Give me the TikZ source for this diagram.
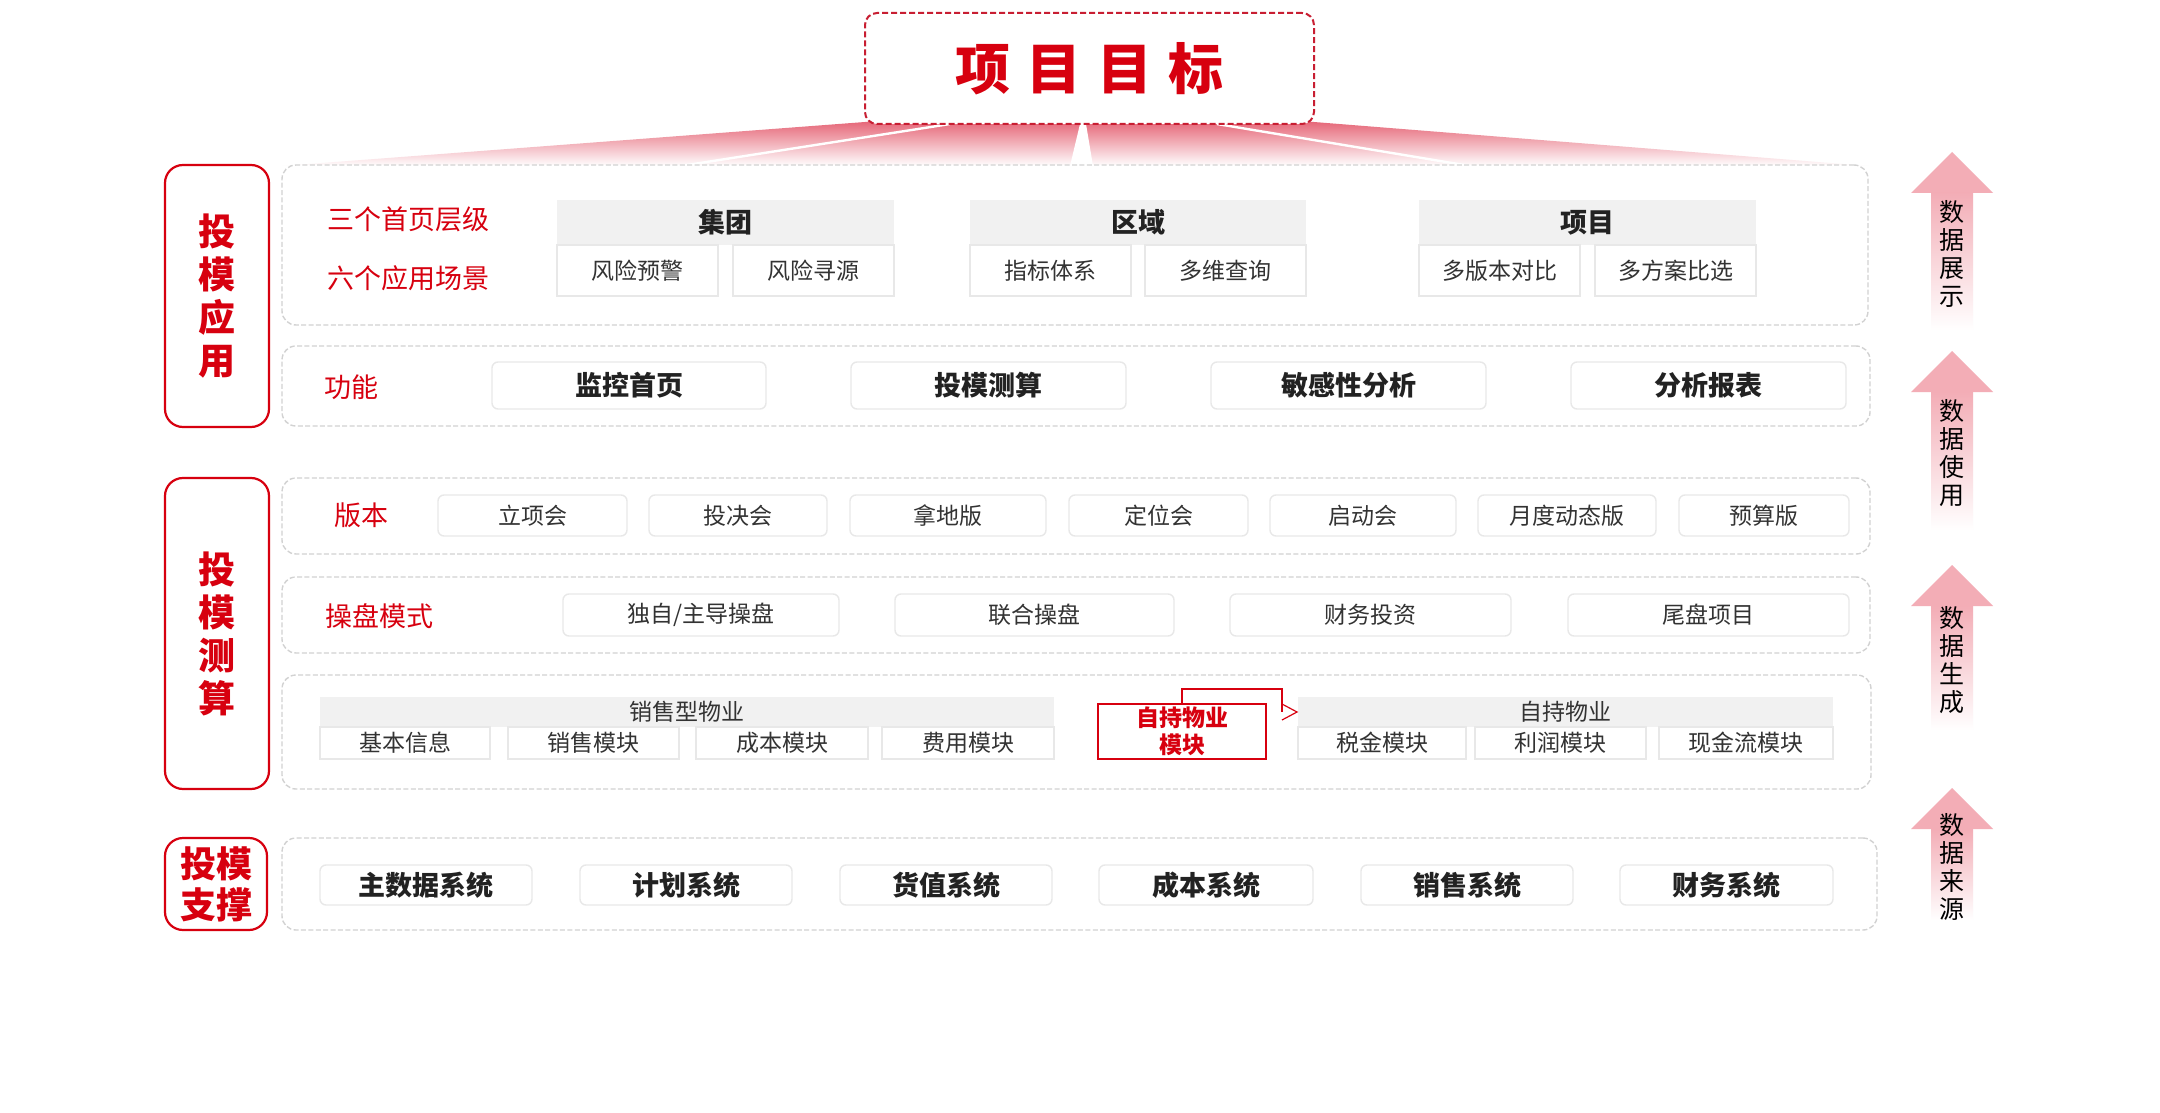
\documentclass[tikz,border=0pt]{standalone}
\usepackage{fontspec}
\setmainfont{Noto Sans CJK SC}
\usetikzlibrary{calc,backgrounds}
\definecolor{myred}{HTML}{D7000F}
\definecolor{dkred}{HTML}{C81E32}
\definecolor{txt}{HTML}{333333}
\definecolor{btxt}{HTML}{222222}
\definecolor{bordgray}{HTML}{D2D2D2}
\definecolor{boxgray}{HTML}{E8E8E8}
\definecolor{hdrgray}{HTML}{F1F1F1}
\definecolor{arrowpink}{HTML}{F3ADB6}
\definecolor{shpink}{HTML}{E0A3AD}
\definecolor{fanred}{HTML}{E6697A}
\newcommand\fs[2]{\fontsize{#1}{#2}\selectfont}
\newcommand\bx[7]{\node[#1,minimum width={(#4-#2)*0.5pt},minimum height={(#5-#3)*0.5pt}] (#6) at ({(#2+#4)/2},{(#3+#5)/2}) {#7};}
\newcommand\uparr[5]{%
  \fill[arrowpink] (1952,#1) -- (1993,#2) -- (1911,#2) -- cycle;
  \shade[top color=arrowpink,bottom color=white] (1931,#2) rectangle (1973,#3);
  \node[vtext] (#4) at (1952,{(#1+#3)/2+13}) {#5};}
\tikzset{
  base/.style={inner sep=0pt,outer sep=0pt},
  panel/.style={base,draw=bordgray,line width=0.7pt,dash pattern=on 2.5pt off 1.2pt,rounded corners=7pt,fill=white},
  lbl/.style={base,draw=myred,line width=1.1pt,rounded corners=9pt,fill=white,text=myred,font=\fs{18.5pt}{21.5pt}\bfseries,align=center},
  hdr/.style={base,fill=hdrgray,text=btxt,font=\fs{13.5pt}{16pt}\bfseries},
  sub/.style={base,fill=white,draw=boxgray,line width=0.6pt,text=txt,font=\fs{11.5pt}{14pt}},
  fbox/.style={base,fill=white,draw=boxgray,line width=0.7pt,rounded corners=3pt,text=btxt,font=\fs{13.5pt}{16pt}\bfseries},
  vbox/.style={base,fill=white,draw=boxgray,line width=0.7pt,rounded corners=3pt,text=txt,font=\fs{11.5pt}{14pt}},
  rowlbl/.style={base,text=myred,font=\fs{13.5pt}{16pt}},
  shdr/.style={base,fill=hdrgray,text=txt,font=\fs{11.5pt}{14pt}},
  vtext/.style={base,text=black,font=\fs{12.5pt}{14pt},align=center},
}
\begin{document}
\begin{tikzpicture}[x=0.5pt,y=-0.5pt]
\useasboundingbox[fill=white] (0,0) rectangle (2160,1113);
% fan
\shade[top color=fanred,bottom color=white] (865,122) -- (1314,122) -- (1868,166) -- (282,166) -- cycle;
\draw[white,line width=1.2pt] (950,124) -- (681,166);
\draw[white,line width=1.2pt] (1217,124) -- (1470,166);
\fill[white] (1080,124) -- (1086,124) -- (1093,166) -- (1070,166) -- cycle;
% title
\bx{base,draw=dkred,line width=1pt,dash pattern=on 3pt off 1.5pt,rounded corners=6pt,fill=white,text=myred,font=\fs{27.5pt}{30pt}\bfseries}{865}{13}{1314}{124}{title}{项\hspace{8pt}目\hspace{8pt}目\hspace{8pt}标}
% left labels
\bx{lbl}{165}{165}{269}{427}{L1}{投\\模\\应\\用}
\bx{lbl}{165}{478}{269}{789}{L2}{投\\模\\测\\算}
\bx{lbl,font=\fs{18pt}{20.5pt}\bfseries}{165}{838}{267}{930}{L3}{投模\\支撑}
% panel 1
\bx{panel}{282}{165}{1868}{325}{p1}{}
\node[rowlbl] (r1a) at (408,219) {三个首页层级};
\node[rowlbl] (r1b) at (408,278) {六个应用场景};
\bx{hdr}{557}{200}{894}{245}{h1}{集团}
\bx{sub}{557}{245}{718}{296}{h1a}{风险预警}
\bx{sub}{733}{245}{894}{296}{h1b}{风险寻源}
\bx{hdr}{970}{200}{1306}{245}{h2}{区域}
\bx{sub}{970}{245}{1131}{296}{h2a}{指标体系}
\bx{sub}{1145}{245}{1306}{296}{h2b}{多维查询}
\bx{hdr}{1419}{200}{1756}{245}{h3}{项目}
\bx{sub}{1419}{245}{1580}{296}{h3a}{多版本对比}
\bx{sub}{1595}{245}{1756}{296}{h3b}{多方案比选}
% panel 2
\bx{panel}{282}{346}{1870}{426}{p2}{}
\node[rowlbl] (r2) at (351,387) {功能};
\bx{fbox}{492}{362}{766}{409}{f1}{监控首页}
\bx{fbox}{851}{362}{1126}{409}{f2}{投模测算}
\bx{fbox}{1211}{362}{1486}{409}{f3}{敏感性分析}
\bx{fbox}{1571}{362}{1846}{409}{f4}{分析报表}
% panel 3
\bx{panel}{282}{478}{1870}{554}{p3}{}
\node[rowlbl] (r3) at (361,515) {版本};
\bx{vbox}{438}{495}{627}{536}{v1}{立项会}
\bx{vbox}{649}{495}{827}{536}{v2}{投决会}
\bx{vbox}{850}{495}{1046}{536}{v3}{拿地版}
\bx{vbox}{1069}{495}{1248}{536}{v4}{定位会}
\bx{vbox}{1270}{495}{1456}{536}{v5}{启动会}
\bx{vbox}{1478}{495}{1656}{536}{v6}{月度动态版}
\bx{vbox}{1679}{495}{1849}{536}{v7}{预算版}
% panel 4
\bx{panel}{282}{577}{1870}{653}{p4}{}
\node[rowlbl] (r4) at (379,616) {操盘模式};
\bx{vbox}{563}{594}{839}{636}{m1}{独自/主导操盘}
\bx{vbox}{895}{594}{1174}{636}{m2}{联合操盘}
\bx{vbox}{1230}{594}{1511}{636}{m3}{财务投资}
\bx{vbox}{1568}{594}{1849}{636}{m4}{尾盘项目}
% panel 5
\bx{panel}{282}{675}{1871}{789}{p5}{}
\bx{shdr}{320}{697}{1054}{727}{s0}{销售型物业}
\bx{sub}{320}{727}{490}{759}{s1}{基本信息}
\bx{sub}{508}{727}{679}{759}{s2}{销售模块}
\bx{sub}{696}{727}{868}{759}{s3}{成本模块}
\bx{sub}{882}{727}{1054}{759}{s4}{费用模块}
\bx{base,draw=myred,line width=0.8pt,fill=white,text=myred,font=\fs{11.5pt}{13.5pt}\bfseries,align=center}{1098}{704}{1266}{759}{zc}{自持物业\\模块}
\bx{shdr}{1298}{697}{1833}{727}{z0}{自持物业}
\bx{sub}{1298}{727}{1466}{759}{z1}{税金模块}
\bx{sub}{1475}{727}{1646}{759}{z2}{利润模块}
\bx{sub}{1659}{727}{1833}{759}{z3}{现金流模块}
\coordinate (zturn) at (1282,689);
\coordinate (zdown) at (1282,712);
\coordinate (ztip) at (1297,712);
\draw[myred,line width=0.6pt] (zc.north) |- (zturn) -- (zdown);
\draw[myred,line width=0.6pt] ($(ztip)+(-15,-8)$) -- (ztip) -- ($(ztip)+(-15,8)$);
% panel 6
\bx{panel}{282}{838}{1877}{930}{p6}{}
\bx{fbox}{320}{865}{532}{905}{y1}{主数据系统}
\bx{fbox}{580}{865}{792}{905}{y2}{计划系统}
\bx{fbox}{840}{865}{1052}{905}{y3}{货值系统}
\bx{fbox}{1099}{865}{1313}{905}{y4}{成本系统}
\bx{fbox}{1361}{865}{1573}{905}{y5}{销售系统}
\bx{fbox}{1620}{865}{1833}{905}{y6}{财务系统}
% right arrows
\uparr{152}{193}{330}{a1}{数\\据\\展\\示}
\uparr{351}{392}{530}{a2}{数\\据\\使\\用}
\uparr{565}{606}{730}{a3}{数\\据\\生\\成}
\uparr{788}{829}{920}{a4}{数\\据\\来\\源}
% shadows
\begin{scope}[on background layer]
\foreach \n in {p1,p2,p3,p4,p5,p6}{
  \foreach \k in {1,...,8}{
    \fill[shpink,opacity=0.06,rounded corners=8pt] ($(\n.north west)+(-1.5*\k,12-1.5*\k)$) rectangle ($(\n.south east)+(1.5*\k,10+1.5*\k)$);
  }
}
\foreach \k in {1,...,6}{
  \fill[shpink,opacity=0.04,rounded corners=8pt] ($(title.north west)+(-1.5*\k,4-1.5*\k)$) rectangle ($(title.south east)+(1.5*\k,4+1.5*\k)$);
}
\end{scope}
\end{tikzpicture}
\end{document}
